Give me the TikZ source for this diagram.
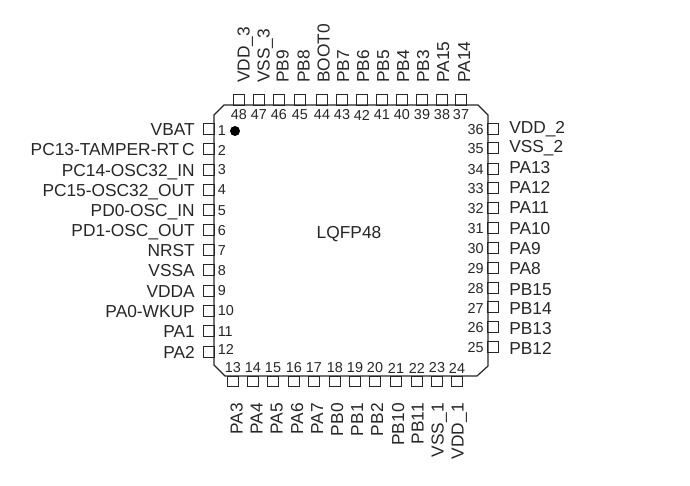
\documentclass[tikz,border=0pt]{standalone}
\usepackage{fontspec}
\setmainfont{Liberation Sans}
\definecolor{inkgray}{rgb}{0.15,0.15,0.15}
\tikzset{
  pinbox/.style={draw=inkgray,line width=0.75pt,minimum size=7.8pt,inner sep=0pt,outer sep=0pt},
  pinname/.style={inner sep=0pt,text height=9.3pt,text depth=0pt,text=inkgray,font=\fontsize{13pt}{15pt}\selectfont},
  pinnum/.style={inner sep=0pt,text=inkgray,font=\fontsize{10.8pt}{13pt}\selectfont},
}

\begin{document}
\begin{tikzpicture}[x=0.75pt,y=0.75pt,yscale=-1,xscale=1]
\useasboundingbox (0,0) rectangle (690,486);

%Package outline
\draw [color=inkgray,line width=0.9pt] (224,105) -- (478,105) -- (488,115) -- (488,366) -- (477,376) -- (225,376) -- (214,365) -- (214,115) -- cycle;
\node [circle,fill=black,minimum size=7.5pt,inner sep=0pt] (dot) at (235,131) {};
\node [pinname] (pkgname) at (349,232) {LQFP48};

%Left pins
\foreach \num/\yy/\ny/\lab in {1/129/131/VBAT,2/149/150/PC13-TAMPER-RT\,C,3/170/170/PC14-OSC32\_IN,4/190/190/PC15-OSC32\_OUT,5/210/211/PD0-OSC\_IN,6/230/231/PD1-OSC\_OUT,7/250/251/NRST,8/270/271/VSSA,9/291/291/VDDA,10/311/311/PA0-WKUP,11/331/332/PA1,12/352/349/PA2}{
  \node [pinbox] (pin\num) at (209,\yy) {};
  \node [pinnum,anchor=west] (num\num) at (217.5,\ny) {\num};
  \node [pinname,anchor=east] (lab\num) at (195,\yy) {\lab};
}

%Bottom pins
\foreach \num/\xx/\lx/\lab in {13/233/236.5/PA3,14/253/256.5/PA4,15/273/276.5/PA5,16/294/297/PA6,17/314/317/PA7,18/335/337/PB0,19/355/357/PB1,20/375/377/PB2,21/396/398/PB10,22/417/417.5/PB11,23/437/437.5/VSS\_1,24/457/457.5/VDD\_1}{
  \node [pinbox] (pin\num) at (\xx,381.5) {};
  \node [pinnum] (num\num) at (\xx,368) {\num};
  \node [pinname,rotate=90,anchor=east] (lab\num) at (\lx,403) {\lab};
}

%Right pins
\foreach \num/\yy/\ly/\lab in {25/347/348/PB12,26/327/328/PB13,27/307/308/PB14,28/288/289/PB15,29/268/268/PA8,30/248/248/PA9,31/228/228/PA10,32/208/207/PA11,33/188/187/PA12,34/169/167/PA13,35/148/146/VSS\_2,36/129/127/VDD\_2}{
  \node [pinbox] (pin\num) at (493,\yy) {};
  \node [pinnum,anchor=east] (num\num) at (484,\yy+1) {\num};
  \node [pinname,anchor=west] (lab\num) at (509,\ly) {\lab};
}

%Top pins
\foreach \num/\xx/\lx/\lab in {37/461/464/PA14,38/442/443/PA15,39/422/423/PB3,40/402/403/PB4,41/382/383/PB5,42/362/363/PB6,43/342/343/PB7,44/322/323.5/BOOT0,45/300/303.5/PB8,46/279/282.5/PB9,47/259/263.5/VSS\_3,48/239/243.5/VDD\_3}{
  \node [pinbox] (pin\num) at (\xx,100) {};
  \node [pinnum] (num\num) at (\xx,115) {\num};
  \node [pinname,rotate=90,anchor=west] (lab\num) at (\lx,83) {\lab};
}

\end{tikzpicture}
\end{document}
